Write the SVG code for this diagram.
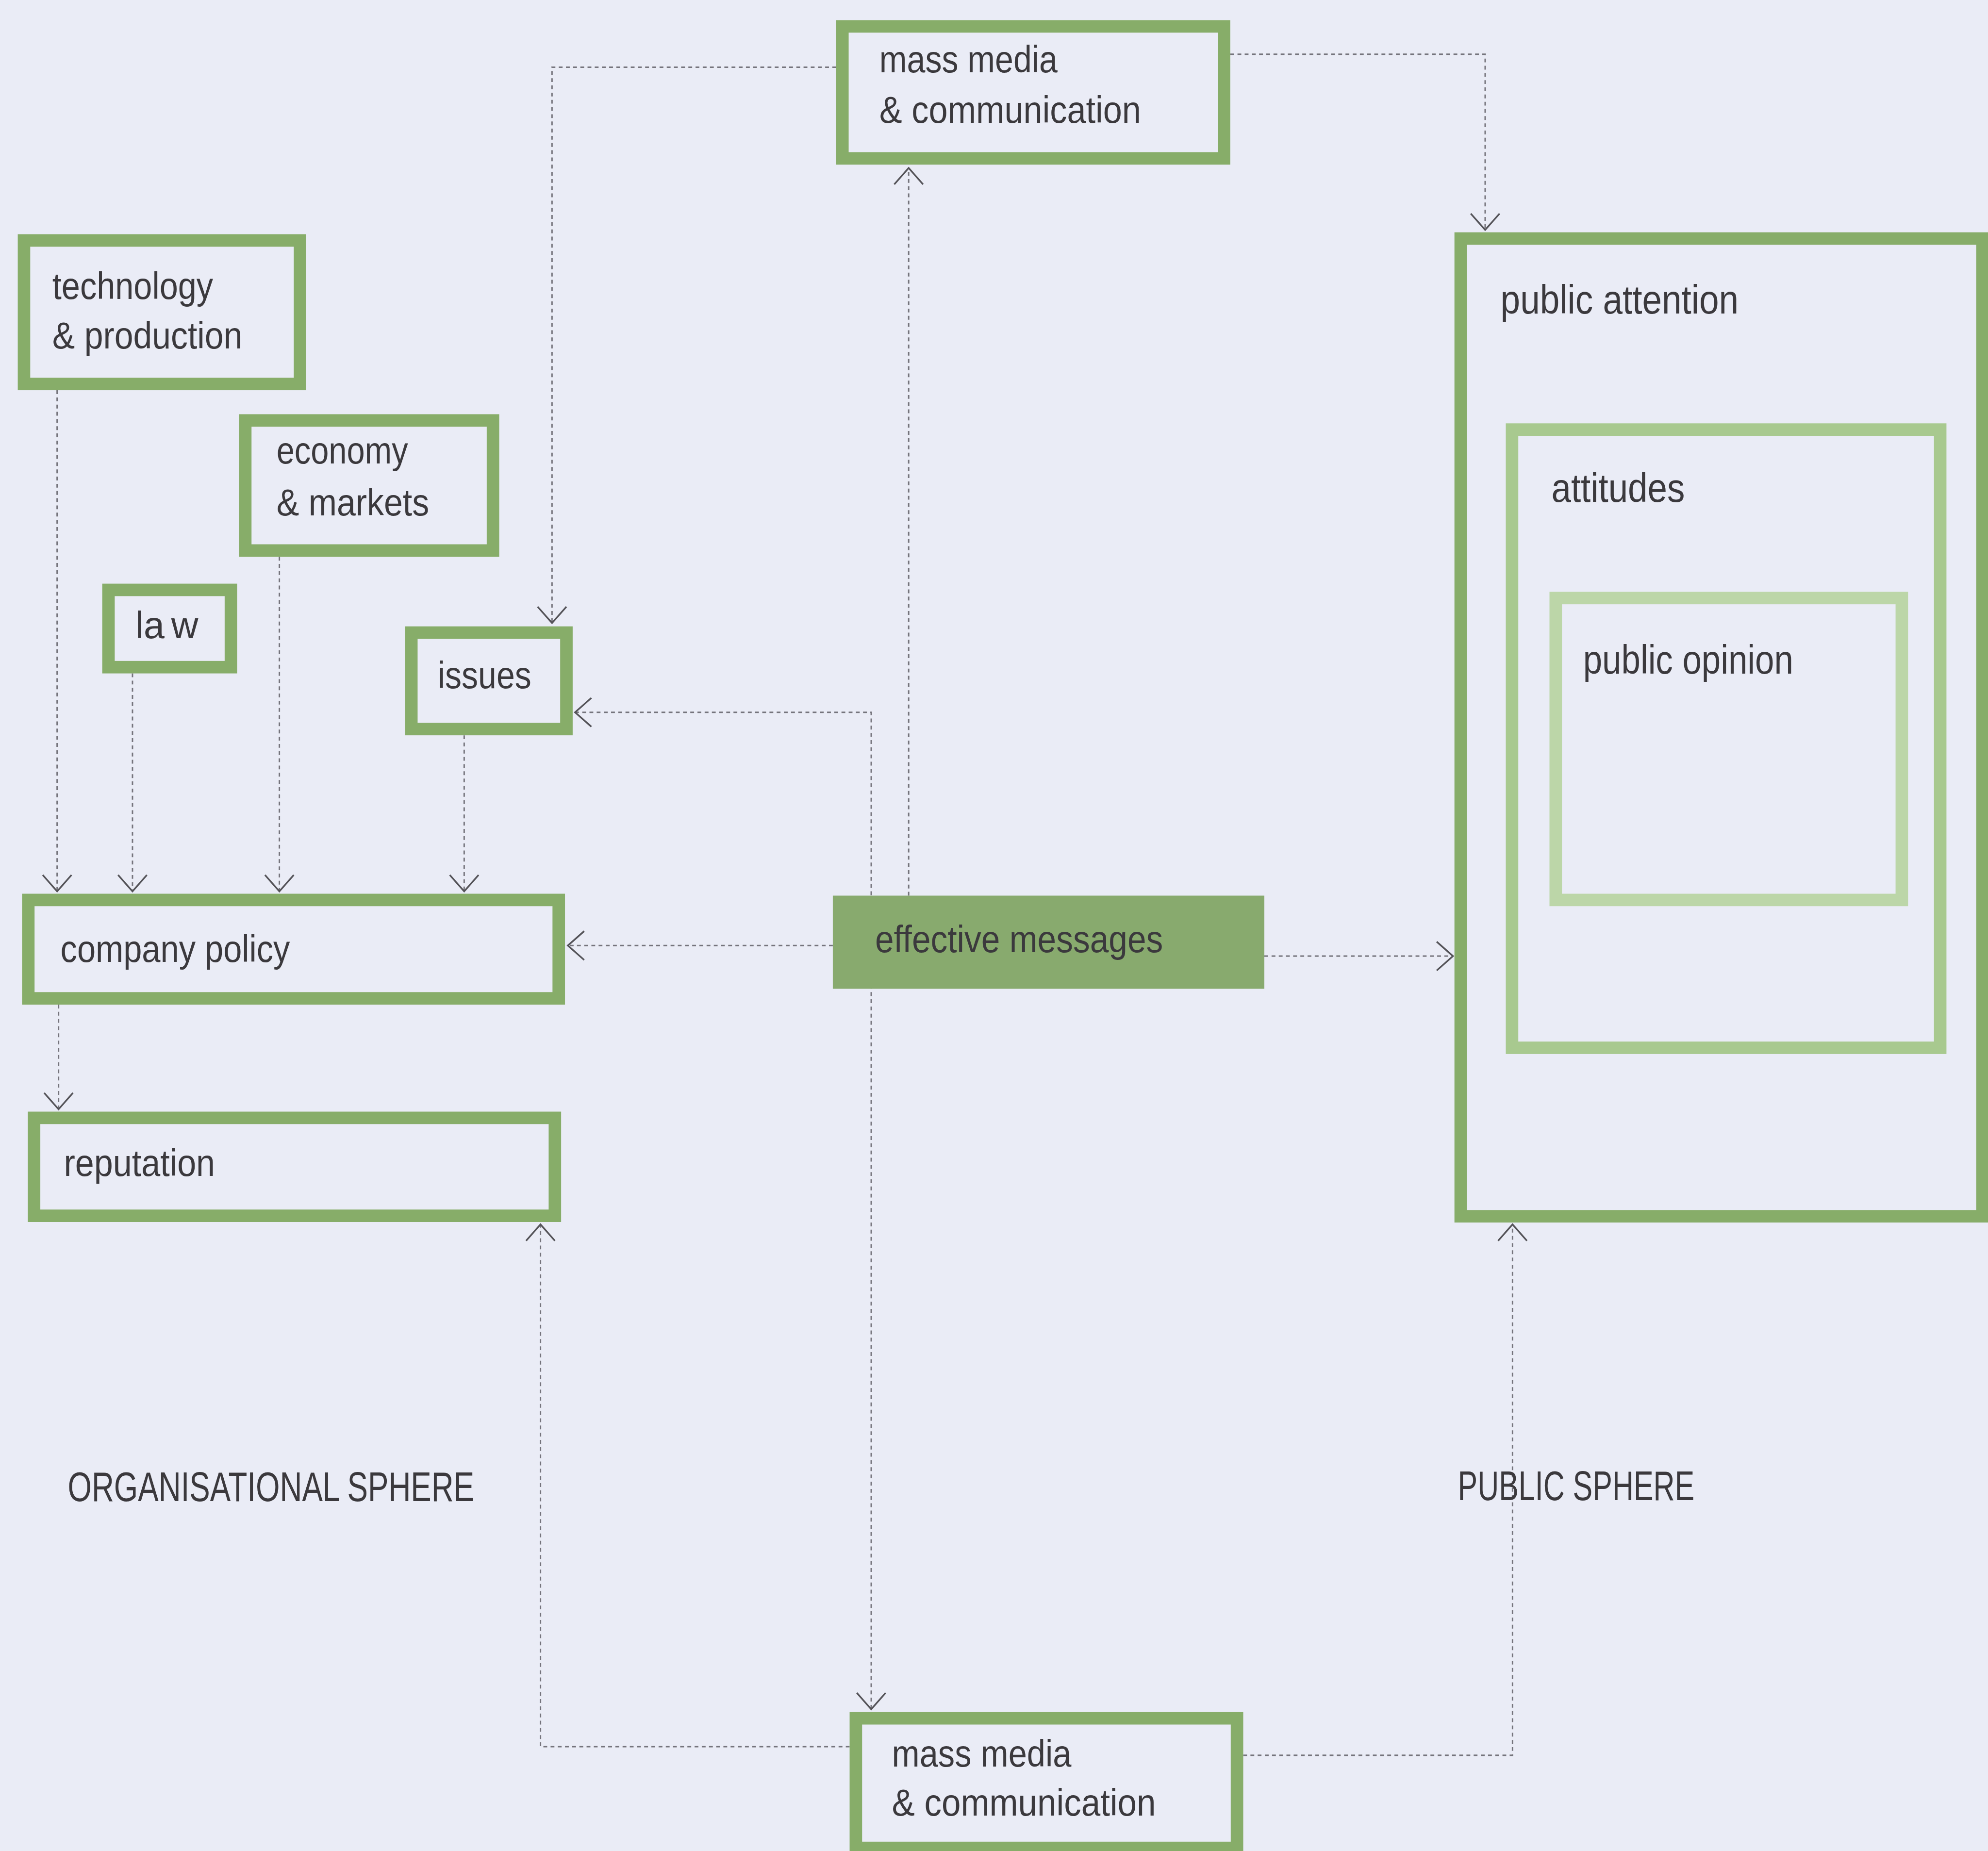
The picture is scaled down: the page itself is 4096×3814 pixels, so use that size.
<svg xmlns="http://www.w3.org/2000/svg" width="4096" height="3814" viewBox="0 0 4096 3814">
<style>
.box{fill:none;stroke:#87ad69;stroke-width:26}
.box2{fill:none;stroke:#a8c98f;stroke-width:26}
.box3{fill:none;stroke:#bcd6a8;stroke-width:26}
.fillbox{fill:#88aa6e}
.lbl{font-family:"Liberation Sans Narrow","Liberation Sans",Arial,sans-serif;font-size:78px;fill:#3b393d}
.lbl2{font-family:"Liberation Sans",Arial,sans-serif;font-size:84px;fill:#3b393d}
.sph{font-family:"Liberation Sans Narrow","Liberation Sans",Arial,sans-serif;font-size:86px;fill:#3b393d}
.con{fill:none;stroke:#75747c;stroke-width:3;stroke-dasharray:8 7}
</style>
<defs>
<marker id="ah" markerUnits="userSpaceOnUse" markerWidth="80" markerHeight="80" viewBox="-40 -40 80 80" refX="0" refY="0" orient="auto-start-reverse">
<path d="M-34,-30 L0,0 L-34,30" fill="none" stroke="#545358" stroke-width="3.5"/>
</marker>
</defs>
<rect x="0" y="0" width="4096" height="3814" fill="#eaecf6"/>
<g transform="scale(0.989)">
<g id="connectors">
<path class="con" d="M119,813 V1857" marker-end="url(#ah)"/>
<path class="con" d="M276,1403 V1857" marker-end="url(#ah)"/>
<path class="con" d="M582,1160 V1857" marker-end="url(#ah)"/>
<path class="con" d="M967,1532 V1857" marker-end="url(#ah)"/>
<path class="con" d="M122,2093 V2311" marker-end="url(#ah)"/>
<path class="con" d="M1742,140 H1150 V1298" marker-end="url(#ah)"/>
<path class="con" d="M2563,113 H3094 V479" marker-end="url(#ah)"/>
<path class="con" d="M1893,1866 V350" marker-end="url(#ah)"/>
<path class="con" d="M1198,1484 H1815 V3561" marker-start="url(#ah)" marker-end="url(#ah)"/>
<path class="con" d="M1735,1970 H1183" marker-end="url(#ah)"/>
<path class="con" d="M2634,1992 H3027" marker-end="url(#ah)"/>
<path class="con" d="M1770,3639 H1126 V2551" marker-end="url(#ah)"/>
<path class="con" d="M2590,3657 H3151 V2551" marker-end="url(#ah)"/>
</g>
<g id="mass-media-top">
<rect class="box" x="1755" y="55" width="795" height="275"/>
<text class="lbl" x="1832" y="151" textLength="371" lengthAdjust="spacingAndGlyphs">mass media</text>
<text class="lbl" x="1832" y="256" textLength="545" lengthAdjust="spacingAndGlyphs">&amp; communication</text>
</g>
<g id="technology">
<rect class="box" x="50" y="501" width="575" height="299"/>
<text class="lbl" x="109" y="623" textLength="335" lengthAdjust="spacingAndGlyphs">technology</text>
<text class="lbl" x="109" y="726" textLength="396" lengthAdjust="spacingAndGlyphs">&amp; production</text>
</g>
<g id="economy">
<rect class="box" x="511" y="876" width="516" height="271"/>
<text class="lbl" x="576" y="966" textLength="274" lengthAdjust="spacingAndGlyphs">economy</text>
<text class="lbl" x="576" y="1074" textLength="318" lengthAdjust="spacingAndGlyphs">&amp; markets</text>
</g>
<g id="law">
<rect class="box" x="226" y="1229" width="255" height="161"/>
<text class="lbl" x="282" y="1330">la<tspan dx="14">w</tspan></text>
</g>
<g id="issues">
<rect class="box" x="857" y="1318" width="323" height="201"/>
<text class="lbl" x="912" y="1434" textLength="195" lengthAdjust="spacingAndGlyphs">issues</text>
</g>
<g id="company-policy">
<rect class="box" x="59" y="1875" width="1105" height="205"/>
<text class="lbl" x="126" y="2004" textLength="478" lengthAdjust="spacingAndGlyphs">company policy</text>
</g>
<g id="effective-messages">
<rect class="fillbox" x="1735" y="1866" width="899" height="194"/>
<text class="lbl" x="1823" y="1984" textLength="600" lengthAdjust="spacingAndGlyphs">effective messages</text>
</g>
<g id="reputation">
<rect class="box" x="71" y="2329" width="1085" height="204"/>
<text class="lbl" x="133" y="2450" textLength="315" lengthAdjust="spacingAndGlyphs">reputation</text>
</g>
<g id="mass-media-bottom">
<rect class="box" x="1783" y="3580" width="794" height="270"/>
<text class="lbl" x="1858" y="3680" textLength="374" lengthAdjust="spacingAndGlyphs">mass media</text>
<text class="lbl" x="1858" y="3783" textLength="550" lengthAdjust="spacingAndGlyphs">&amp; communication</text>
</g>
<g id="public-attention">
<rect class="box" x="3043" y="497" width="1087" height="2037"/>
<text class="lbl2" x="3126" y="653" textLength="496" lengthAdjust="spacingAndGlyphs">public attention</text>
</g>
<g id="attitudes">
<rect class="box2" x="3150" y="895" width="892" height="1288"/>
<text class="lbl2" x="3232" y="1045" textLength="278" lengthAdjust="spacingAndGlyphs">attitudes</text>
</g>
<g id="public-opinion">
<rect class="box3" x="3241" y="1246" width="721" height="629"/>
<text class="lbl2" x="3298" y="1403" textLength="438" lengthAdjust="spacingAndGlyphs">public opinion</text>
</g>
<g id="organisational-sphere">
<text class="sph" x="141" y="3127" textLength="847" lengthAdjust="spacingAndGlyphs">ORGANISATIONAL SPHERE</text>
</g>
<g id="public-sphere">
<text class="sph" x="3037" y="3125" textLength="493" lengthAdjust="spacingAndGlyphs">PUBLIC SPHERE</text>
</g>
</g>
</svg>
